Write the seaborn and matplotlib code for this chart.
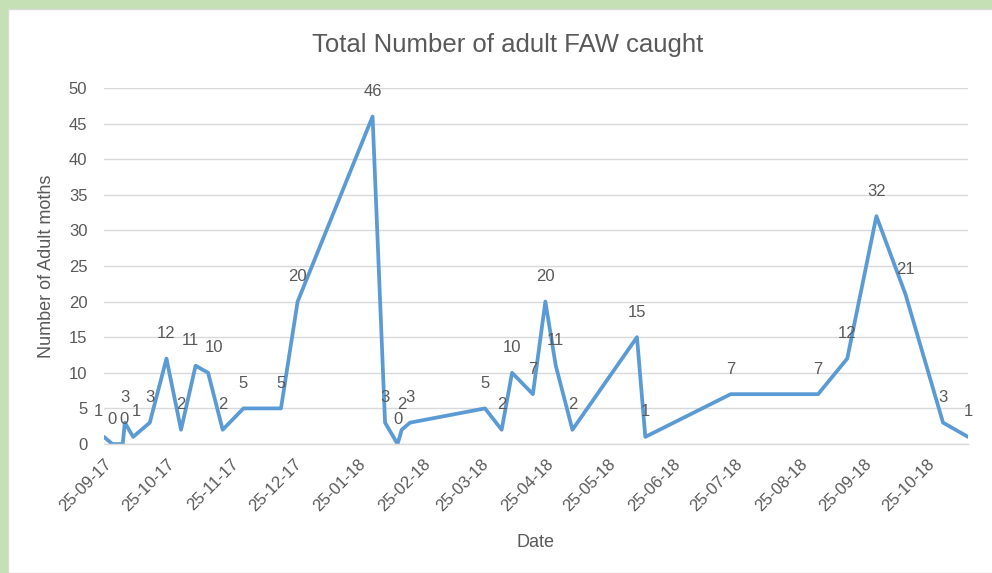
import numpy as np
import pandas as pd
import matplotlib.pyplot as plt
import matplotlib.dates as mdates
import seaborn as sns

# Data
dates = ['2017-09-25', '2017-09-29', '2017-10-04', '2017-10-05', '2017-10-09', '2017-10-17',
         '2017-10-25', '2017-11-01', '2017-11-08', '2017-11-14', '2017-11-21', '2017-12-01',
         '2017-12-19', '2017-12-27', '2018-02-01', '2018-02-07', '2018-02-13', '2018-02-15',
         '2018-02-19', '2018-03-27', '2018-04-04', '2018-04-09', '2018-04-19', '2018-04-25',
         '2018-04-30', '2018-05-08', '2018-06-08', '2018-06-12', '2018-07-23', '2018-09-03',
         '2018-09-17', '2018-10-01', '2018-10-15', '2018-11-02', '2018-11-14']
moths = [1, 0, 0, 3, 1, 3,
         12, 2, 11, 10, 2, 5,
         5, 20, 46, 3, 0, 2,
         3, 5, 2, 10, 7, 20,
         11, 2, 15, 1, 7, 7,
         12, 32, 21, 3, 1]
tick_dates = ['2017-09-25', '2017-10-25', '2017-11-25', '2017-12-25', '2018-01-25', '2018-02-25',
              '2018-03-25', '2018-04-25', '2018-05-25', '2018-06-25', '2018-07-25', '2018-08-25',
              '2018-09-25', '2018-10-25']

df = pd.DataFrame({'Date': pd.to_datetime(dates), 'moths': moths})

sns.set_style('white')
plt.rcParams['font.family'] = ['Liberation Sans', 'DejaVu Sans']
text_col = '#595959'

fig = plt.figure(figsize=(9.92, 5.73), dpi=100)
# green frame of the screenshot
fig.patches.append(plt.Rectangle((0, 0), 1, 1, transform=fig.transFigure, color='#c5e0b4', zorder=-3))
fig.patches.append(plt.Rectangle((8 / 992, 0), 1, 1 - 9 / 573, transform=fig.transFigure,
                                 facecolor='white', edgecolor='#d9d9d9', lw=1, zorder=-2))

ax = fig.add_axes([104 / 992, 1 - 444 / 573, (968 - 104) / 992, (444 - 88) / 573])
ax.set_facecolor('none')
sns.lineplot(data=df, x='Date', y='moths', ax=ax, color='#5b9bd5', linewidth=2.7)

# small nudges where excel labels crowd together
nudge = {0: -4, 1: 0, 2: 1, 4: 2, 8: -4, 9: 4}
for i, (d, v) in enumerate(zip(df['Date'], df['moths'])):
    ax.annotate(str(v), (d, v), xytext=(nudge.get(i, 0), 18), textcoords='offset points',
                ha='center', va='center', fontsize=12, color=text_col)

ax.set_ylim(0, 50)
ax.set_yticks(range(0, 51, 5))
ax.set_xlim(pd.Timestamp('2017-09-25'), pd.Timestamp('2018-11-14'))
ax.set_xticks(pd.to_datetime(tick_dates))
ax.xaxis.set_major_formatter(mdates.DateFormatter('%d-%m-%y'))
plt.setp(ax.get_xticklabels(), rotation=45, ha='right', rotation_mode='anchor')

ax.grid(axis='y', color='#d9d9d9', linewidth=1)
ax.set_axisbelow(True)
for s in ['top', 'right', 'left']:
    ax.spines[s].set_visible(False)
ax.spines['bottom'].set_color('#d9d9d9')
ax.spines['bottom'].set_linewidth(1)
ax.tick_params(axis='x', colors=text_col, labelsize=12, length=5, width=1, color='#d9d9d9', direction='out', pad=4)
ax.tick_params(axis='y', colors=text_col, labelsize=12, length=0, pad=12)

ax.set_xlabel('Date', fontsize=13, color=text_col, labelpad=14)
ax.set_ylabel('Number of Adult moths', fontsize=13, color=text_col, labelpad=10)
fig.text(0.512, 1 - 45 / 573, 'Total Number of adult FAW caught', ha='center', va='center',
         fontsize=18.5, color=text_col)

fig.savefig('out.png', dpi=100)
